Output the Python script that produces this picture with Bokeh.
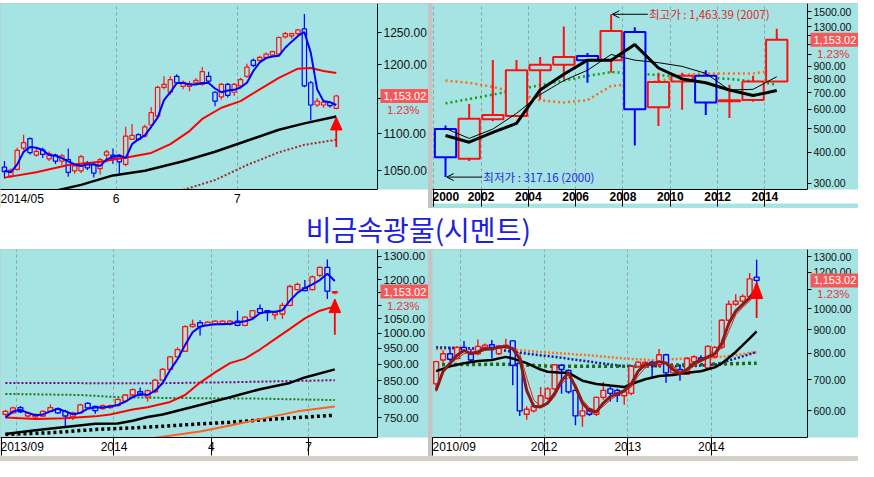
from bokeh.plotting import figure
from bokeh.layouts import column, row
from bokeh.models import (ColumnDataSource, FixedTicker, PrintfTickFormatter, Label,
                          Arrow, OpenHead, Spacer, Range1d)
from bokeh.embed import file_html
from bokeh.resources import INLINE

# ======================= DATA =======================
TITLE = "비금속광물(시멘트)"
LAST_PRICE = 1153.02
CHANGE_PCT = 1.23

# ---- top-left: daily candles 2014/05 - 2014/07 ----
tl_tick_pos = [-0.5, 17.5, 36.5]
tl_tick_labels = ["2014/05", "6", "7"]
tl_grid_pos = [17.5, 36.5]
tl_open = [1054, 1042, 1051, 1079.5, 1092.5, 1070, 1077, 1065, 1070, 1062,
           1064, 1049, 1049, 1059.5, 1057.5, 1052, 1070, 1070, 1068, 1057.5,
           1091.6, 1098, 1096, 1111.5, 1124, 1165.5, 1158.5, 1182, 1167, 1167,
           1172.5, 1170, 1182, 1158.5, 1151.6, 1170, 1158.5, 1167.8, 1182, 1206,
           1206, 1210.8, 1214, 1215.7, 1242.5, 1244, 1247.5, 1255, 1172.5, 1140,
           1140, 1143.6, 1135]
tl_high = [1062, 1052, 1080, 1098, 1094, 1079, 1080, 1075, 1072, 1072,
           1079, 1058, 1070, 1062, 1060, 1066, 1077, 1079, 1070, 1109,
           1113, 1100, 1112, 1137, 1168, 1182, 1182, 1185, 1176, 1175,
           1179, 1196, 1189, 1160, 1172, 1172, 1172, 1180, 1201, 1209,
           1213, 1218, 1221, 1243, 1250, 1249, 1255, 1279, 1175, 1150,
           1146, 1145, 1155]
tl_low = [1039, 1040, 1049, 1077, 1071, 1068, 1066, 1062, 1058, 1057,
          1041, 1045, 1046, 1050, 1040, 1044, 1060, 1058, 1046, 1055,
          1091, 1090, 1094, 1109, 1122, 1163, 1155, 1170, 1163, 1160,
          1170, 1168, 1173, 1138, 1148, 1151, 1153, 1165, 1180, 1196,
          1203, 1208, 1212, 1213, 1240, 1240, 1245, 1166, 1118, 1137,
          1136, 1136, 1134]
tl_close = [1048, 1050, 1076.5, 1087, 1073.5, 1075, 1071, 1072, 1062, 1069,
            1047, 1055.5, 1068, 1053, 1046, 1064, 1074.4, 1066, 1061, 1096,
            1097, 1091.6, 1109, 1129, 1165.5, 1170, 1177, 1172.5, 1173, 1171,
            1176, 1189, 1175, 1145.6, 1170, 1154, 1170, 1177, 1196, 1198.5,
            1210.8, 1215.7, 1219.5, 1241.5, 1247.5, 1247.5, 1253.5, 1168, 1140, 1145.6,
            1144, 1139, 1153.02]
tl_ma5 = [1049, 1047, 1057.5, 1074.4, 1081, 1080, 1077, 1070, 1069, 1066,
          1061.7, 1057.5, 1055.5, 1057.5, 1057.5, 1055.5, 1064, 1068, 1070, 1066,
          1085, 1091.6, 1097, 1109, 1122, 1147, 1158.5, 1172, 1172, 1170,
          1170, 1172, 1172, 1164, 1158.5, 1161, 1162, 1165.5, 1172.5, 1190,
          1203, 1209.5, 1212, 1213, 1225.5, 1235, 1244, 1250, 1218, 1163,
          1145.6, 1144, 1140]
tl_ma20_x = [0, 5, 10, 15, 20, 23, 26, 29, 31, 34, 37, 40, 43, 46, 48, 50, 52]
tl_ma20 = [1040, 1047, 1056.6, 1061, 1068, 1073, 1085, 1103, 1120, 1136, 1145.6,
           1162.6, 1179.8, 1193.5, 1194.5, 1190, 1187]
tl_ma60_x = [8, 12, 17, 22, 28, 33, 38, 43, 47, 52]
tl_ma60 = [1023, 1030.5, 1042.9, 1049, 1061.7, 1074.5, 1089.6, 1104.9, 1113.8, 1123.5]
tl_ma120_x = [28, 33, 38, 43, 47, 52]
tl_ma120 = [1024, 1036.8, 1056.7, 1073.8, 1084, 1090.9]
tl_y_major = [1050, 1100, 1200, 1250]
tl_y_minor = [1150]

# ---- top-right: yearly candles 2000 - 2014 ----
tr_years = [2000, 2001, 2002, 2003, 2004, 2005, 2006, 2007, 2008, 2009, 2010, 2011, 2012, 2013, 2014]
tr_tick_pos = [1999.5, 2001.5, 2003.5, 2005.5, 2007.5, 2009.5, 2011.5, 2013.5]
tr_tick_labels = ["2000", "2002", "2004", "2006", "2008", "2010", "2012", "2014"]
tr_open = [498, 376.5, 546, 563, 865, 910, 988, 951, 1239, 611.6, 778.5, 821, 646, 654, 778.5]
tr_high = [515, 630, 952, 952, 979, 1306, 1017, 1463.39, 1295, 845, 845, 865, 755, 821, 1276]
tr_low = [317.16, 369, 536, 563, 658, 797, 769, 845, 427, 513, 597, 568, 552, 643, 778]
tr_close = [382, 548.6, 568, 865, 910, 979, 951, 1250, 600, 774, 821, 639, 652, 778.5, 1153.02]
tr_ma_a = [469, 440, 483, 525, 719, 833, 951, 951, 1101, 883.5, 797, 769, 719, 682, 715]
tr_ma_b = [501, 456, 498, 577, 688, 785, 865, 1003, 951, 929, 897, 840, 719, 723, 814]
tr_ma_c_x = [2000, 2002, 2004, 2005, 2006, 2007, 2008, 2009, 2010, 2011, 2012, 2013, 2014]
tr_ma_c = [634, 688, 751.5, 785, 821, 850, 840, 826, 816, 809, 797, 778.5, 756]
tr_ma_d = [785, 769, 740, 698, 653, 639, 653, 747, 760, 778, 826, 840, 840, 840, 865]
tr_y_major = [300, 400, 500, 600, 700, 800, 900, 1300, 1500]
tr_y_minor = [1000, 1100, 1200, 1400]

# ---- bottom-left: weekly candles 2013/09 - 2014/07 ----
bl_tick_pos = [-0.5, 14.5, 27.5, 40.5]
bl_tick_labels = ["2013/09", "2014", "4", "7"]
bl_grid_pos = [1.5, 14.5, 27.5, 40.5]
bl_open = [758, 762, 776, 754, 751.5, 754, 766, 773, 766, 751.5,
           762, 787, 779, 773, 776, 781, 793, 810, 819, 804,
           819, 852, 884, 922.5, 940.5, 1023, 1036.5, 1027.5, 1031, 1033,
           1031, 1042, 1027.5, 1056.8, 1088, 1080, 1065, 1068, 1100, 1161,
           1167, 1161, 1218.5, 1252, 1148]
bl_high = [770, 778, 780, 765, 760, 769, 784, 776, 770, 765,
           786, 790, 781, 784, 784, 800, 813, 828, 831, 825,
           856, 888, 926, 953, 1028, 1048, 1045, 1042, 1045, 1045,
           1046, 1080, 1060, 1083, 1103, 1082, 1076, 1110, 1180, 1188,
           1199, 1218, 1256, 1286, 1155]
bl_low = [754, 760, 762, 750, 749, 752, 764, 759, 727.6, 744,
          760, 772, 760, 770, 773, 779, 791, 808, 808, 792,
          816, 849, 881, 920, 938, 1020, 992.7, 1024, 1028, 1030,
          1026, 1024, 1024, 1053, 1070, 1042, 1048, 1050, 1097, 1158,
          1154, 1157, 1212, 1123.8, 1142]
bl_close = [766, 775, 765, 762, 758, 766, 776, 762, 754, 762,
            783, 775, 768, 781, 781, 798, 810, 825, 810, 822,
            852, 884, 922.5, 945.6, 1023, 1031, 1023, 1038.7, 1042, 1042,
            1042, 1027.5, 1056.8, 1080, 1073, 1073, 1073, 1100, 1173, 1182,
            1157, 1212, 1252, 1154.5, 1153.02]
bl_ma5 = [750, 766, 770, 762, 756, 758, 766, 773, 766, 758,
          762, 773, 776, 776, 779, 783, 791.5, 804, 813, 810,
          822, 844, 882, 915.6, 961, 1003.5, 1023, 1027.5, 1031, 1031,
          1033, 1038.7, 1042, 1050, 1070.6, 1076.4, 1076.4, 1082, 1117.7, 1148,
          1167, 1182, 1199, 1225, 1195]
bl_ma20_x = [0, 4, 8, 12, 14, 17, 19, 22, 24, 26, 28, 30, 32, 34, 36, 38, 40, 42, 44]
bl_ma20 = [750, 746, 748, 753, 758, 771, 777, 791, 810, 845, 875, 903, 917, 946, 980,
           1015, 1052, 1080, 1096]
bl_ma60_x = [0, 4, 8, 12, 15, 17, 19, 21, 26, 30, 34, 38, 40, 44]
bl_ma60 = [709, 718, 726, 734, 735, 742, 751.5, 758, 783, 804, 826, 844, 860, 884]
bl_ma120_x = [0, 6, 12, 17, 21, 26, 30, 34, 39, 44]
bl_ma120 = [708, 712, 720, 724, 728, 734, 738, 743.5, 750, 756]
bl_ma240_x = [20, 26, 30, 34, 39, 44]
bl_ma240 = [700, 715, 730, 746, 766, 779]
bl_lvl_a_x = [0, 20, 30, 44]
bl_lvl_a = [844, 843, 846, 852]
bl_lvl_b_x = [0, 10, 15, 21, 34, 44]
bl_lvl_b = [813, 810, 804, 802, 800, 796]
bl_y_major = [750, 800, 850, 900, 950, 1000, 1050, 1200, 1300]
bl_y_minor = [1100, 1150, 1250]

# ---- bottom-right: monthly candles 2010/09 - 2014/07 ----
br_tick_pos = [-0.5, 15.5, 27.5, 39.5]
br_tick_labels = ["2010/09", "2012", "2013", "2014"]
br_grid_pos = [3.5, 15.5, 27.5, 39.5]
br_open = [686, 773, 798, 779, 824, 798, 798, 824, 835, 798,
           824, 851, 761, 589, 599, 613, 638, 669, 753, 734,
           664, 584, 604, 589, 641, 669, 664, 646, 654, 749,
           752, 765, 755, 794, 725, 737, 720, 766, 781, 743,
           786, 824, 944, 1023, 1039, 1064, 1172]
br_high = [770, 811, 824, 830, 851, 817, 857, 840, 855, 833,
           860, 854, 765, 613, 623, 675, 675, 757, 757, 737,
           669, 623, 608, 644, 692, 675, 669, 669, 752, 769,
           767, 770, 817.5, 798, 755, 757, 785, 792, 792, 834,
           830, 950, 1042, 1075, 1075, 1197, 1279]
br_low = [660, 761, 767, 776, 805, 767, 792, 811, 779, 792,
          817, 681, 584, 573, 594, 608, 633, 664, 653, 653,
          557, 553, 584, 584, 633, 628, 626, 618, 648, 743,
          743, 708, 749, 690, 719, 697, 719, 749, 767, 737,
          779, 817, 936, 1014, 1031, 1056, 1110]
br_close = [767, 798, 776, 824, 811, 773, 828, 833, 824, 830,
            833, 753, 599, 604, 613, 646, 669, 755, 737, 659,
            584, 599, 589, 641, 664, 654, 648, 659, 749, 765,
            765, 755, 794, 725, 737, 723, 779, 786, 773, 828,
            824, 944, 1023, 1039, 1064, 1162, 1153.02]
br_ma3 = [664, 731, 761, 792, 811, 798, 805, 817.5, 817.5, 824,
          828, 817.5, 779, 664, 613, 611, 623, 653.5, 697, 725,
          675, 623, 599, 596, 623, 643, 653.5, 662, 685.5, 731,
          757, 757, 767, 761, 737, 722, 737, 761, 773, 785.5,
          798, 841, 929, 988, 1022.6, 1056, 1108]
br_ma5 = [680, 725, 757, 779, 798, 805, 805, 811, 817.5, 820,
          824, 824, 798, 708, 633, 613, 618, 643, 685.5, 708,
          685.5, 633, 608, 599, 613, 633, 648, 659, 675, 713.5,
          743, 757, 765, 765, 749, 731, 733, 749, 767, 779,
          792, 824, 893, 970, 1007, 1039, 1091]
br_ma12_x = [0, 2, 4, 6, 8, 10, 11, 13, 15, 16, 18, 19, 21, 23, 25, 27, 28, 30, 32, 34,
             36, 38, 40, 41, 43, 45, 46]
br_ma12 = [731, 749, 761, 769, 773, 785.5, 779, 761, 737, 729, 725, 725, 697, 685.5, 680,
           675, 685.5, 702, 713.5, 717, 725, 731, 745, 760, 805, 862, 893]
br_ma24_x = [0, 10, 15, 22, 27, 31, 36, 41, 46]
br_ma24 = [817.5, 817.5, 804.6, 791.8, 779, 773, 779, 785.5, 804.6]
br_ma36_x = [0, 8, 13, 17, 22, 27, 31, 36, 40, 46]
br_ma36 = [824, 817.5, 798, 785.5, 767, 749, 749, 749, 755, 804.6]
br_ma60_x = [0, 10, 17, 27, 36, 46]
br_ma60 = [755, 757, 749, 749, 755, 761]
br_y_major = [600, 700, 800, 900, 1000, 1200, 1300]
br_y_minor = [1100]

# ======================= STYLE =======================
BG = "#a6e4e4"
UP = "#ff1010"
DOWN = "#0000ff"
TAG = "#f25a5a"
PCT = "#e8333b"
SEP = "#c4c4c4"
FONT = "Liberation Sans"
KFONT = "Noto Sans CJK KR"

TOP_H, TITLE_H, BOT_H = 205, 41, 207
L_W, R_W = 428, 426
AXIS_W = 51


def panel(width, height, strip_h, xr, yr, y_major, y_minor, y_fs,
          ticks, labels, grid, tick_len, bold):
    """xr is the x span of the data area; the frame also covers the price-axis strip."""
    frame_w = width - AXIS_W
    x0, x1 = xr
    x_end = x0 + (x1 - x0) * width / frame_w
    p = figure(width=width, height=height, x_range=Range1d(x0, x_end), y_range=Range1d(*yr),
               y_axis_type="log", y_axis_location="right",
               output_backend="svg", toolbar_location=None,
               min_border_left=0, min_border_top=0,
               min_border_right=0, min_border_bottom=strip_h,
               background_fill_color=BG, border_fill_color=BG,
               outline_line_color=None)
    p.ygrid.visible = False
    ay = p.yaxis[0]
    ay.fixed_location = x1
    ay.ticker = FixedTicker(ticks=y_major, minor_ticks=y_minor)
    ay.formatter = PrintfTickFormatter(format="%.2f")
    ay.major_tick_out = 4
    ay.major_tick_in = 0
    ay.minor_tick_out = 4
    ay.minor_tick_in = 0
    ay.major_label_standoff = 2
    ay.major_label_text_font = FONT
    ay.major_label_text_font_size = y_fs
    ay.major_label_text_color = "#101010"
    ay.axis_line_color = "black"
    ay.major_tick_line_color = "black"
    ay.minor_tick_line_color = "black"

    ax = p.xaxis[0]
    ax.ticker = FixedTicker(ticks=ticks, minor_ticks=[])
    ax.major_label_overrides = {t: s for t, s in zip(ticks, labels)}
    ax.bounds = (x0, x1)
    ax.major_tick_out = tick_len
    ax.major_tick_in = 0
    ax.minor_tick_out = 0
    ax.major_label_standoff = 2 - tick_len
    ax.major_label_text_align = "left"
    ax.major_label_text_font = FONT
    ax.major_label_text_font_size = "12px"
    ax.major_label_text_font_style = "bold" if bold else "normal"
    ax.major_label_text_color = "black"
    ax.axis_line_color = "black"
    ax.major_tick_line_color = "black"
    ax.background_fill_color = "white"

    p.xgrid.ticker = FixedTicker(ticks=grid, minor_ticks=[])
    p.xgrid.grid_line_color = "#8fa0a0"
    p.xgrid.grid_line_dash = "3 3"
    p.xgrid.grid_line_width = 1

    # last price tag and change, inside the price-axis strip
    p.add_layout(Label(x=frame_w + 3, y=LAST_PRICE, x_units="screen", y_units="data",
                       text=f"{LAST_PRICE:,.2f}", text_font=FONT, text_font_size="11px",
                       text_color="white", text_baseline="middle", text_align="left",
                       background_fill_color=TAG, padding=3))
    p.add_layout(Label(x=width - 9, y=LAST_PRICE, x_units="screen", y_units="data",
                       y_offset=-14, text=f"{CHANGE_PCT:.2f}%", text_font=FONT,
                       text_font_size="11.5px", text_color=PCT, text_baseline="middle",
                       text_align="right"))
    return p


def candles(p, x, o, h, l, c, width, lw):
    src = ColumnDataSource(dict(
        x=x, h=h, l=l,
        top=[max(a, b) for a, b in zip(o, c)],
        bot=[min(a, b) for a, b in zip(o, c)],
        color=[UP if cc >= oo else DOWN for oo, cc in zip(o, c)]))
    p.segment(x0="x", y0="h", x1="x", y1="l", source=src, line_color="color", line_width=lw)
    p.vbar(x="x", width=width, top="top", bottom="bot", source=src,
           fill_color=BG, line_color="color", line_width=lw)


def signal(p, x, half_w, tip_f, base_f, end_f):
    p.patch([x - half_w, x, x + half_w],
            [LAST_PRICE * base_f, LAST_PRICE * tip_f, LAST_PRICE * base_f],
            fill_color="#ff0000", line_color="#ff0000", line_width=1)
    p.segment(x0=[x], y0=[LAST_PRICE * base_f], x1=[x], y1=[LAST_PRICE * end_f],
              line_color="#ff0000", line_width=1.8)


# ---------------- top-left ----------------
tl_x = list(range(len(tl_close)))
p_tl = panel(L_W, TOP_H, 17, (-0.62, 58.46), (1024.5, 1296), tl_y_major, tl_y_minor, "12px",
             tl_tick_pos, tl_tick_labels, tl_grid_pos, 0, False)
candles(p_tl, tl_x, tl_open, tl_high, tl_low, tl_close, 0.68, 1.2)
p_tl.line(tl_ma120_x, tl_ma120, line_color="#a02a20", line_width=2, line_dash="2 2")
p_tl.line(tl_ma60_x, tl_ma60, line_color="black", line_width=2.5)
p_tl.line(tl_ma20_x, tl_ma20, line_color="#ff0000", line_width=2)
p_tl.line(tl_x, tl_ma5, line_color="#0000ff", line_width=2)
signal(p_tl, tl_x[-1], 0.9, 0.9736, 0.958, 0.9375)

# ---------------- top-right ----------------
p_tr = panel(R_W, TOP_H, 17, (1999.45, 2015.3), (282.3, 1619), tr_y_major, tr_y_minor, "10.5px",
             tr_tick_pos, tr_tick_labels, tr_tick_pos, 17, True)
p_tr.line(tr_years, tr_ma_d, line_color="#ff6a1a", line_width=2.5, line_dash="2 3")
p_tr.line(tr_ma_c_x, tr_ma_c, line_color="#1a9a1a", line_width=2.5, line_dash="2 3")
candles(p_tr, tr_years, tr_open, tr_high, tr_low, tr_close, 0.9, 2)
p_tr.line(tr_years, tr_ma_b, line_color="black", line_width=1)
p_tr.line(tr_years, tr_ma_a, line_color="black", line_width=3)
i_hi = tr_high.index(max(tr_high))
i_lo = tr_low.index(min(tr_low))
p_tr.add_layout(Arrow(end=OpenHead(size=7, line_color="black", line_width=1),
                      x_start=tr_years[i_hi] + 1.55, y_start=tr_high[i_hi],
                      x_end=tr_years[i_hi] + 0.05, y_end=tr_high[i_hi],
                      line_color="black", line_width=1))
p_tr.add_layout(Label(x=tr_years[i_hi] + 1.6, y=tr_high[i_hi],
                      text=f"최고가 : {tr_high[i_hi]:,.2f} ({tr_years[i_hi]})",
                      text_font=KFONT, text_font_size="11.5px", text_color="#e02828",
                      text_baseline="middle"))
p_tr.add_layout(Arrow(end=OpenHead(size=7, line_color="black", line_width=1),
                      x_start=tr_years[i_lo] + 1.55, y_start=tr_low[i_lo],
                      x_end=tr_years[i_lo] + 0.05, y_end=tr_low[i_lo],
                      line_color="black", line_width=1))
p_tr.add_layout(Label(x=tr_years[i_lo] + 1.6, y=tr_low[i_lo],
                      text=f"최저가 : {tr_low[i_lo]:,.2f} ({tr_years[i_lo]})",
                      text_font=KFONT, text_font_size="11.5px", text_color="#2828e0",
                      text_baseline="middle"))

# ---------------- bottom-left ----------------
bl_x = list(range(len(bl_close)))
p_bl = panel(L_W, BOT_H, 18, (-0.66, 49.7), (700.6, 1331), bl_y_major, bl_y_minor, "11.5px",
             bl_tick_pos, bl_tick_labels, bl_grid_pos, 18, False)
p_bl.line(bl_lvl_a_x, bl_lvl_a, line_color="#800080", line_width=2, line_dash="2 2")
p_bl.line(bl_lvl_b_x, bl_lvl_b, line_color="#1a7a1a", line_width=2, line_dash="2 2")
p_bl.line(bl_ma120_x, bl_ma120, line_color="black", line_width=3.5, line_dash="3 3")
p_bl.line(bl_ma240_x, bl_ma240, line_color="#ff6020", line_width=2)
candles(p_bl, bl_x, bl_open, bl_high, bl_low, bl_close, 0.65, 1.3)
p_bl.line(bl_ma60_x, bl_ma60, line_color="black", line_width=2.5)
p_bl.line(bl_ma20_x, bl_ma20, line_color="#ff0000", line_width=2)
p_bl.line(bl_x, bl_ma5, line_color="#0000ff", line_width=2)
signal(p_bl, bl_x[-1], 0.77, 0.975, 0.9306, 0.863)

# ---------------- bottom-right ----------------
br_x = list(range(len(br_close)))
p_br = panel(R_W, BOT_H, 18, (-0.52, 53.3), (524, 1346.6), br_y_major, br_y_minor, "10.5px",
             br_tick_pos, br_tick_labels, br_grid_pos, 18, False)
p_br.line(br_ma24_x, br_ma24, line_color="#ff7020", line_width=2.5, line_dash="2 2")
p_br.line(br_ma36_x, br_ma36, line_color="#1a1aa0", line_width=2.5, line_dash="2 2")
p_br.line(br_ma60_x, br_ma60, line_color="#1a6a1a", line_width=3.5, line_dash="3 3")
candles(p_br, br_x, br_open, br_high, br_low, br_close, 0.7, 1.4)
p_br.line(br_ma12_x, br_ma12, line_color="black", line_width=2.5)
p_br.line(br_x, br_ma5, line_color="#e02020", line_width=1)
p_br.line(br_x, br_ma3, line_color="#8b1a1a", line_width=3)
signal(p_br, br_x[-1], 0.87, 0.992, 0.913, 0.828)

# ---------------- title ----------------
p_title = figure(width=L_W + R_W + 4, height=TITLE_H, x_range=Range1d(0, 1), y_range=Range1d(0, 1),
                 output_backend="svg", toolbar_location=None, min_border=0,
                 outline_line_color=None, background_fill_color="white",
                 border_fill_color="white")
p_title.xaxis.visible = False
p_title.yaxis.visible = False
p_title.grid.visible = False
p_title.add_layout(Label(x=0.487, y=0.5, text=TITLE, text_align="center",
                         text_baseline="middle", text_font=KFONT,
                         text_font_size="28px", text_color="#2020e0"))

layout = column(
    Spacer(width=L_W + R_W + 4, height=3),
    row(p_tl, p_tr, spacing=4, styles={"background-color": SEP}),
    p_title,
    row(p_bl, p_br, spacing=4, styles={"background-color": SEP}),
    Spacer(width=L_W + R_W + 4, height=5, styles={"background-color": "#d4d0c8"}),
)

open("out.html", "w").write(file_html(layout, INLINE))
